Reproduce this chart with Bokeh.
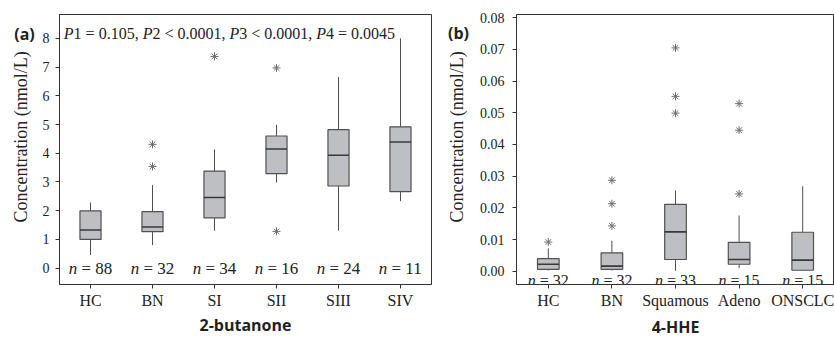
import math
from bokeh.plotting import figure
from bokeh.models import ColumnDataSource, FactorRange, Range1d, Label, FixedTicker, PrintfTickFormatter
from bokeh.transform import dodge
from bokeh.layouts import row
from bokeh.core.properties import value
from bokeh.embed import file_html
from bokeh.resources import INLINE

# ---------------- data ----------------
cats_a = ["HC", "BN", "SI", "SII", "SIII", "SIV"]
lo_a = [0.46, 0.80, 1.30, 2.98, 1.30, 2.33]
q1_a = [1.00, 1.27, 1.75, 3.29, 2.86, 2.66]
med_a = [1.33, 1.43, 2.46, 4.15, 3.93, 4.39]
q3_a = [1.99, 1.97, 3.38, 4.60, 4.82, 4.92]
hi_a = [2.29, 2.89, 4.13, 4.99, 6.65, 8.00]
n_a = [88, 32, 34, 16, 24, 11]
out_cat_a = ["BN", "BN", "SI", "SII", "SII"]
out_val_a = [4.31, 3.54, 7.37, 6.97, 1.28]
p_names = ["P1", "P2", "P3", "P4"]
p_texts = ["= 0.105,", "< 0.0001,", "< 0.0001,", "= 0.0045"]

cats_b = ["HC", "BN", "Squamous", "Adeno", "ONSCLC"]
lo_b = [0.0002, 0.0002, 0.0001, 0.0010, 0.0001]
q1_b = [0.0006, 0.0006, 0.0037, 0.0022, 0.0003]
med_b = [0.0022, 0.0016, 0.0124, 0.0037, 0.0035]
q3_b = [0.0040, 0.0058, 0.0211, 0.0091, 0.0123]
hi_b = [0.0072, 0.0096, 0.0255, 0.0176, 0.0268]
n_b = [32, 32, 33, 15, 15]
out_cat_b = ["HC", "BN", "BN", "BN", "Squamous", "Squamous", "Squamous", "Adeno", "Adeno", "Adeno"]
out_val_b = [0.0092, 0.0143, 0.0213, 0.0287, 0.0499, 0.0552, 0.0705, 0.0244, 0.0445, 0.0529]

ticks_a = [0, 1, 2, 3, 4, 5, 6, 7, 8]
ticks_b = [0.00, 0.01, 0.02, 0.03, 0.04, 0.05, 0.06, 0.07, 0.08]

y_title = "Concentration (nmol/L)"
panel_tags = ["(a)", "(b)"]
x_titles = ["2-butanone", "4-HHE"]

# ---------------- style ----------------
H = 342
SERIF = "Liberation Serif"
SANS = "Open Sans"
BOX_FILL = "#bebfc3"
BOX_LINE = "#505050"
MED_LINE = "#383838"
AX = "#333333"
TXT = "#222222"
W_BOX = 0.34
# Times/Liberation Serif advance widths (per 1000 em)
ADV = {" ": 250, ".": 250, ",": 250, "=": 564, "<": 564, "P": 611, "n": 500}


def text_width(s, fs):
    return sum(ADV.get(c, 500) for c in s) / 1000.0 * fs


def side_fig(width, tag, tag_x, tag_y, lab_x, lab_y):
    """Narrow strip holding the panel tag and the rotated y title."""
    s = figure(width=width, height=H, x_range=Range1d(0, width), y_range=Range1d(0, H),
               x_axis_type=None, y_axis_type=None, output_backend="svg", toolbar_location=None,
               min_border_left=0, min_border_right=0, min_border_top=0, min_border_bottom=0,
               title=None)
    s.outline_line_color = None
    s.xgrid.visible = False
    s.ygrid.visible = False
    s.add_layout(Label(x=tag_x, y=H - tag_y, text=tag, text_font=SANS, text_font_style="bold",
                       text_font_size="16px", text_align="center", text_baseline="middle",
                       text_color="#231f20"))
    s.add_layout(Label(x=lab_x, y=H - lab_y, text=y_title, angle=math.pi / 2, text_font=SERIF,
                       text_font_size="18px", text_align="center", text_baseline="middle",
                       text_color=TXT))
    return s


def make_fig(cats, y0, y1, width, mb_left, mb_right, mb_bottom, ticks, xlabel, ylab_standoff,
             xlab_standoff):
    p = figure(x_range=FactorRange(factors=cats), y_range=Range1d(y0, y1),
               width=width, height=H, output_backend="svg", toolbar_location=None,
               min_border_left=mb_left, min_border_right=mb_right, min_border_top=14,
               min_border_bottom=mb_bottom, title=None)
    p.xgrid.visible = False
    p.ygrid.visible = False
    p.outline_line_color = AX
    p.outline_line_width = 1
    p.background_fill_color = "white"
    p.border_fill_color = "white"
    for ax in (p.xaxis[0], p.yaxis[0]):
        ax.axis_line_color = AX
        ax.major_tick_line_color = AX
        ax.major_tick_out = 4
        ax.major_tick_in = 0
        ax.minor_tick_line_color = None
        ax.major_label_text_font = SERIF
        ax.major_label_text_color = TXT
    p.xaxis.major_label_text_font_size = "16px"
    p.xaxis.major_label_standoff = 3
    p.yaxis.major_label_text_font_size = "14px"
    p.yaxis.major_label_standoff = ylab_standoff
    p.yaxis.ticker = FixedTicker(ticks=ticks)
    p.xaxis.axis_label = xlabel
    p.xaxis.axis_label_text_font = SANS
    p.xaxis.axis_label_text_font_style = "bold"
    p.xaxis.axis_label_text_font_size = "16px"
    p.xaxis.axis_label_text_color = "#231f20"
    p.xaxis.axis_label_standoff = xlab_standoff
    return p


def draw_boxes(p, cats, lo, q1, med, q3, hi, ocat, oval, n, n_y, n_fs):
    src = ColumnDataSource(dict(cat=cats, lo=lo, q1=q1, med=med, q3=q3, hi=hi,
                                nn=["n"] * len(n), rest=["= %d" % v for v in n]))
    p.segment(x0="cat", y0="lo", x1="cat", y1="q1", source=src, line_color=BOX_LINE, line_width=1)
    p.segment(x0="cat", y0="q3", x1="cat", y1="hi", source=src, line_color=BOX_LINE, line_width=1)
    p.vbar(x="cat", bottom="q1", top="q3", width=W_BOX, source=src,
           fill_color=BOX_FILL, line_color=BOX_LINE, line_width=1.2)
    p.segment(x0=dodge("cat", -W_BOX / 2, range=p.x_range), y0="med",
              x1=dodge("cat", W_BOX / 2, range=p.x_range), y1="med",
              source=src, line_color=MED_LINE, line_width=1.6)
    p.scatter(x=ocat, y=oval, marker="asterisk", size=8, line_color="#6e6e6e", line_width=1)
    total = text_width("n = 00", n_fs)
    left = -total / 2
    p.text(x="cat", y=n_y, text="nn", source=src, text_font=value(SERIF), text_font_style="italic",
           text_font_size="%dpx" % n_fs, text_align="left", text_baseline="alphabetic",
           x_offset=left, text_color=TXT)
    p.text(x="cat", y=n_y, text="rest", source=src, text_font=value(SERIF),
           text_font_size="%dpx" % n_fs, text_align="left", text_baseline="alphabetic",
           x_offset=left + text_width("n ", n_fs), text_color=TXT)


# ---------------- panel (a) ----------------
sa = side_fig(39, panel_tags[0], 24, 25, 20, 155)
pa = make_fig(cats_a, -0.57, 8.83, 397, 20, 5, 54, ticks_a, x_titles[0], 6, 2)
draw_boxes(pa, cats_a, lo_a, q1_a, med_a, q3_a, hi_a, out_cat_a, out_val_a, n_a, 0.0, 17)
fs_p = 16
xo = 0.0
for name, txt in zip(p_names, p_texts):
    pa.add_layout(Label(x=0.07, y=8.18, x_offset=xo, text="P", text_font=SERIF,
                        text_font_style="italic", text_font_size="%dpx" % fs_p,
                        text_baseline="alphabetic", text_color=TXT))
    xo += text_width("P", fs_p)
    rest = name[1:] + " " + txt
    pa.add_layout(Label(x=0.07, y=8.18, x_offset=xo, text=rest, text_font=SERIF,
                        text_font_size="%dpx" % fs_p, text_baseline="alphabetic",
                        text_color=TXT))
    xo += text_width(rest + " ", fs_p)

# ---------------- panel (b) ----------------
sb = side_fig(39, panel_tags[1], 22, 24, 20, 155)
pb = make_fig(cats_b, -0.0042, 0.08104, 359, 41, 0, 58, ticks_b, x_titles[1], 8, 4)
pb.yaxis.formatter = PrintfTickFormatter(format="%.2f")
draw_boxes(pb, cats_b, lo_b, q1_b, med_b, q3_b, hi_b, out_cat_b, out_val_b, n_b, -0.0030, 16)

layout = row(sa, pa, sb, pb)
open("out.html", "w").write(file_html(layout, INLINE))
